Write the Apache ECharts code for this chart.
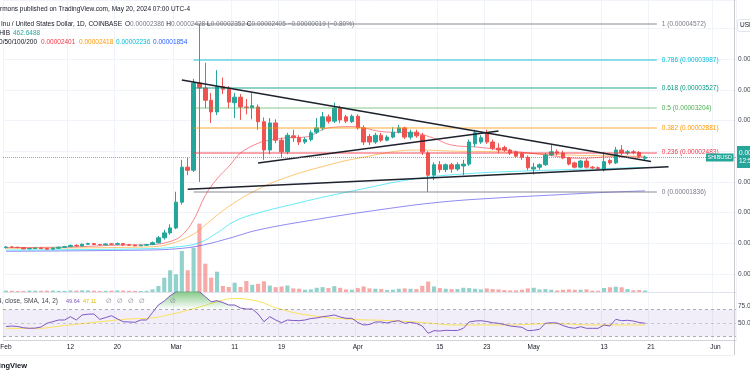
<!DOCTYPE html>
<html><head><meta charset="utf-8">
<script src="https://cdn.jsdelivr.net/npm/echarts@6/dist/echarts.min.js"></script>
<style>html,body{margin:0;padding:0;background:#fff}#c{width:750px;height:375px}</style>
</head><body><div id="c"></div>
<script>
// prices in units of 1e-8 USD, rows = [open, high, low, close]
const ohlcFeb = [
[930,955,915,940],[940,955,925,935],[935,945,920,930],[930,940,900,910],[910,930,900,915],
[915,935,905,925],[925,935,905,915],[915,930,895,905],[905,935,900,920],[920,945,910,935],
[935,960,930,945],[945,980,940,965],[965,985,945,955],[955,995,950,985],[985,1010,975,995],
[995,1005,970,980],[980,990,960,975],[975,1000,970,990],[990,1005,975,985],[985,1015,970,995],
[995,1000,955,975],[975,990,960,970],[970,980,950,960],[960,980,955,970],[970,990,965,980],
[980,1030,970,1010],[1010,1120,1000,1090],[1090,1220,1060,1170],[1170,1310,1140,1250]];
const ohlcMar = [
[1250,1840,1230,1670],[1670,2360,1630,2240],[2240,2390,2110,2190],[2190,3680,2160,3610],[3610,4572,2000,3530],
[3530,3940,3200,3330],[3330,3450,2960,3140],[3140,3820,3090,3550],[3550,3700,3430,3510],[3510,3560,3200,3300],
[3290,3450,3040,3380],[3380,3430,3010,3220],[3220,3350,3100,3210],[3210,3450,3020,3240],[3220,3260,2850,2980],
[2980,3050,2360,2520],[2520,3040,2450,2960],[2960,3020,2630,2680],[2680,2720,2390,2490],[2490,2800,2450,2760],
[2750,2850,2650,2720],[2720,2760,2600,2650],[2650,2730,2620,2690],[2690,2840,2660,2800],[2810,3040,2780,2880],
[2880,3140,2840,3060],[3060,3100,2950,2990],[2990,3290,2960,3200],[3200,3240,2960,3010],[3060,3090,2960,2990],
[2980,3100,2960,3070]];
const ohlcApr = [
[3070,3100,2850,2880],[2880,2920,2600,2650],[2740,2780,2600,2650],[2650,2800,2620,2760],[2760,2800,2650,2680],
[2680,2760,2660,2730],[2730,2890,2710,2810],[2810,2930,2790,2880],[2880,2900,2700,2730],[2730,2850,2690,2810],
[2810,2850,2720,2750],[2760,2800,2440,2490],[2470,2500,1836,2110],[2110,2320,2030,2280],[2280,2340,2150,2200],
[2200,2300,2160,2280],[2280,2310,2150,2210],[2210,2320,2180,2280],[2260,2360,2110,2290],[2290,2690,2260,2650],
[2620,2850,2570,2800],[2650,2760,2620,2720],[2800,2850,2620,2650],[2650,2690,2520,2550],[2550,2630,2470,2520],
[2560,2590,2490,2520],[2520,2540,2440,2470],[2490,2510,2400,2420],[2460,2490,2360,2400],[2400,2430,2190,2230]];
const ohlcMay = [
[2210,2310,2120,2240],[2240,2300,2200,2280],[2280,2470,2260,2440],[2440,2600,2420,2490],[2490,2530,2430,2470],
[2470,2510,2370,2390],[2390,2410,2270,2290],[2310,2330,2220,2240],[2240,2360,2220,2340],[2340,2380,2220,2240],
[2240,2260,2210,2230],[2230,2250,2200,2220],[2200,2490,2170,2330],[2350,2380,2280,2310],[2310,2570,2290,2520],
[2520,2600,2440,2470],[2470,2520,2440,2490],[2490,2520,2450,2480],[2480,2500,2390,2420],[2386,2428,2352,2405]];
const ohlc = [...ohlcFeb, ...ohlcMar, ...ohlcApr, ...ohlcMay];

// volume (billions SHIB)
const volFeb = [420,380,300,350,450,400,380,420,430,360,340,470,430,520,480,400,330,360,420,480,450,380,330,300,350,800,1850,4400,6700];
const volMar = [5460,12650,6700,13670,21080,8730,4410,6260,1850,1540,2870,1540,3400,2200,2500,3300,2000,1500,1700,2000,1100,1000,700,800,1300,1500,1200,1800,1300,800,700];
const volApr = [1200,1700,1100,1000,900,600,700,1000,1100,1000,900,1900,3200,1700,1200,1000,900,900,1300,1200,1000,800,1100,900,800,600,500,500,700,1100];
const volMay = [1300,800,900,700,500,700,800,700,700,800,400,400,1230,1450,1640,1450,930,525,600,462.6488];
const volume = [...volFeb, ...volMar, ...volApr, ...volMay];

// moving averages [date, price]
const ma20 = [['2024-02-01',930],['2024-02-12',940],['2024-02-20',970],['2024-02-26',980],['2024-02-29',1030],['2024-03-02',1130],['2024-03-04',1380],['2024-03-06',1780],['2024-03-08',2050],['2024-03-10',2250],['2024-03-12',2470],['2024-03-15',2630],['2024-03-17',2680],['2024-03-20',2720],['2024-03-23',2730],['2024-03-27',2880],['2024-03-31',2900],['2024-04-02',2880],['2024-04-05',2820],['2024-04-11',2790],['2024-04-14',2710],['2024-04-17',2600],['2024-04-21',2570],['2024-04-23',2550],['2024-05-03',2440],['2024-05-09',2385],['2024-05-15',2410],['2024-05-20',2401]];
const ma50 = [['2024-02-01',920],['2024-02-25',940],['2024-02-29',990],['2024-03-04',1150],['2024-03-06',1300],['2024-03-10',1600],['2024-03-15',1880],['2024-03-20',2080],['2024-03-26',2250],['2024-04-01',2385],['2024-04-11',2520],['2024-04-18',2500],['2024-04-25',2490],['2024-05-03',2455],['2024-05-10',2430],['2024-05-20',2418]];
const ma100 = [['2024-02-01',890],['2024-02-24',910],['2024-03-01',940],['2024-03-05',1010],['2024-03-08',1170],['2024-03-11',1360],['2024-03-15',1494],['2024-03-22',1660],['2024-03-26',1750],['2024-04-01',1870],['2024-04-10',2040],['2024-04-19',2130],['2024-04-30',2180],['2024-05-07',2200],['2024-05-20',2236]];
const ma200 = [['2024-02-01',870],['2024-02-25',890],['2024-03-01',910],['2024-03-05',960],['2024-03-10',1080],['2024-03-15',1217],['2024-03-25',1390],['2024-04-05',1550],['2024-04-15',1670],['2024-04-25',1740],['2024-05-05',1790],['2024-05-12',1825],['2024-05-20',1854]];

// RSI (14) daily values and its moving average
const rsiFeb = [44.9,45.5,44.9,43.0,42.2,42.5,44.1,49.6,52.0,54.4,54.4,59.3,54.4,61.8,63.0,63.2,55.4,58.0,60.7,56.0,51.9,51.5,51.0,54.4,54.4,65.4,76.5,82.4,90.0];
const rsiMar = [96,98,97,98,96,88.7,81.3,82.8,80.1,76.5,76.5,72.0,70.6,70.6,63.2,51.9,59.3,54.4,50.4,54.4,53.7,53.4,54.4,56.6,57.4,59.3,60.3,61.8,58.8,56.9,56.9];
const rsiApr = [50.7,47.1,47.8,51.5,51.5,50.0,52.2,53.4,49.6,51.0,49.3,45.6,34.9,38.7,38.2,39.3,39.0,39.0,42.2,51.5,52.9,53.4,52.2,50.4,49.6,47.8,45.6,44.6,43.7,38.7];
const rsiMay = [39.3,40.7,49.6,50.4,50.0,46.3,43.4,42.2,44.6,42.2,42.2,42.2,47.1,45.6,55.4,53.4,54.0,52.9,50.7,49.64];
const rsi = [...rsiFeb, ...rsiMar, ...rsiApr, ...rsiMay];
const rsiMa = [['2024-02-01',42.2],['2024-02-06',42.2],['2024-02-11',46.3],['2024-02-17',51.9],['2024-02-22',55.9],['2024-02-25',56.9],['2024-02-29',62.5],['2024-03-05',73.5],['2024-03-08',81.3],['2024-03-11',86.0],['2024-03-14',83.8],['2024-03-19',69.9],['2024-03-24',61.0],['2024-03-31',55.4],['2024-04-06',53.7],['2024-04-12',50.7],['2024-04-18',47.1],['2024-04-26',47.1],['2024-05-04',49.0],['2024-05-12',47.1],['2024-05-20',47.11]];

// fibonacci retracement (labels as printed)
const fibLevels = ['1','0.786','0.618','0.5','0.382','0.236','0'];
const fibPrices = [4572,3987,3527,3204,2881,2483,1836];
const fibRange = ['2024-03-04','2024-05-22'];

// trend lines [date, price]
const trendUpper = [['2024-03-02',3660],['2024-05-21',2332]];
const trendMid = [['2024-03-15',2308],['2024-04-25',2830]];
const trendLower = [['2024-03-03',1881],['2024-05-24',2248]];

// x axis ticks
const tickDates = ['2024-02-01','2024-02-12','2024-02-20','2024-03-01','2024-03-11','2024-03-19','2024-04-01','2024-04-15','2024-04-23','2024-05-01','2024-05-13','2024-05-21','2024-06-01'];
const tickLabels = ['Feb','12','20','Mar','11','19','Apr','15','23','May','13','21','Jun'];

const dates = [];
for (let i = 0; i < 125; i++) dates.push(new Date(Date.UTC(2024, 1, 1 + i)).toISOString().slice(0, 10));
const tickMap = new Map(tickDates.map((d, i) => [d, tickLabels[i]]));
const isTick = (i, v) => tickMap.has(v);

const FONT = '"Liberation Sans", "DejaVu Sans", sans-serif';
const UP = '#26a69a', DOWN = '#ef5350';
const fibColors = ['#787b86','#00bcd4','#089981','#4caf50','#ff9800','#f23645','#787b86'];
const fibLineColors = ['rgba(120,123,134,0.6)','rgba(0,188,212,0.6)','rgba(8,153,129,0.6)','rgba(76,175,80,0.45)','rgba(255,152,0,0.4)','rgba(242,54,69,0.6)','rgba(120,123,134,0.6)'];
const fmtP = v => (v / 1e8).toFixed(8);
const last = ohlc[ohlc.length - 1];

const chart = echarts.init(document.getElementById('c'), null, {renderer: 'canvas'});

const fibLines = fibPrices.map((p, i) => [
  {coord: [fibRange[0], p], lineStyle: {color: fibLineColors[i], width: i === 4 ? 2 : 1.5, type: 'solid'},
   label: {show: true, position: 'end', distance: 5, formatter: fibLevels[i] + ' (' + fmtP(p) + ')', color: fibColors[i], fontSize: 6.5, fontFamily: FONT}},
  {coord: [fibRange[1], p]}
]);
const tl = pts => [
  {coord: pts[0], lineStyle: {color: '#1e222d', width: 1.6, type: 'solid'}, label: {show: false}},
  {coord: pts[1]}
];

const text = (x, y, t, fill, opts) => Object.assign({type: 'text', x, y, silent: true, z: 50,
  style: Object.assign({text: t, fill, font: '6.5px ' + FONT, verticalAlign: 'middle', align: 'left'}, opts || {})});

const option = {
  animation: false,
  textStyle: {fontFamily: FONT},
  grid: [
    {left: 3, right: 14, top: 0, height: 292, outerBoundsMode: 'none', containLabel: false},
    {left: 3, right: 14, top: 292, height: 48, outerBoundsMode: 'none', containLabel: false}
  ],
  xAxis: [
    {type: 'category', gridIndex: 0, data: dates, boundaryGap: true,
     axisLabel: {show: false}, axisTick: {show: false},
     axisLine: {show: true, lineStyle: {color: '#e0e3eb'}},
     splitLine: {show: true, interval: isTick, lineStyle: {color: '#f0f3fa'}}},
    {type: 'category', gridIndex: 1, data: dates, boundaryGap: true,
     axisTick: {show: false},
     axisLine: {show: true, lineStyle: {color: '#d1d4dc'}},
     axisLabel: {interval: isTick, formatter: v => tickMap.get(v) || '', color: '#131722', fontSize: 6.5, margin: 4},
     splitLine: {show: true, interval: isTick, lineStyle: {color: '#f0f3fa'}}}
  ],
  yAxis: [
    {type: 'value', gridIndex: 0, position: 'right', min: 207, max: 4963, splitNumber: 10,
     axisLine: {show: false}, axisTick: {show: false},
     axisLabel: {formatter: fmtP, color: '#434651', fontSize: 6.5, margin: 2, showMinLabel: false, showMaxLabel: false},
     splitLine: {show: true, lineStyle: {color: '#f0f3fa'}}},
    {type: 'value', gridIndex: 0, min: 0, max: 90000, show: false, splitLine: {show: false}},
    {type: 'value', gridIndex: 1, position: 'right', min: 25, max: 95.6, interval: 25,
     axisLine: {show: false}, axisTick: {show: false},
     axisLabel: {formatter: v => v.toFixed(1), color: '#434651', fontSize: 6.5, margin: 2, showMinLabel: false, showMaxLabel: false},
     splitLine: {show: false}}
  ],
  series: [
    {type: 'bar', name: 'Volume', xAxisIndex: 0, yAxisIndex: 1, barWidth: '70%', z: 1,
     data: volume.map((v, i) => ({value: v, itemStyle: {color: ohlc[i][3] >= ohlc[i][0] ? 'rgba(38,166,154,0.5)' : 'rgba(239,83,80,0.5)'}}))},
    {type: 'line', name: 'MA200', xAxisIndex: 0, yAxisIndex: 0, data: ma200, smooth: 0.4, showSymbol: false, z: 2,
     lineStyle: {color: 'rgba(70,60,235,0.6)', width: 1}},
    {type: 'line', name: 'MA100', xAxisIndex: 0, yAxisIndex: 0, data: ma100, smooth: 0.4, showSymbol: false, z: 2,
     lineStyle: {color: 'rgba(0,220,245,0.6)', width: 1}},
    {type: 'line', name: 'MA50', xAxisIndex: 0, yAxisIndex: 0, data: ma50, smooth: 0.4, showSymbol: false, z: 2,
     lineStyle: {color: 'rgba(255,152,0,0.55)', width: 1}},
    {type: 'line', name: 'MA20', xAxisIndex: 0, yAxisIndex: 0, data: ma20, smooth: 0.4, showSymbol: false, z: 2,
     lineStyle: {color: 'rgba(242,54,69,0.6)', width: 1}},
    {type: 'candlestick', name: 'SHIBUSD', xAxisIndex: 0, yAxisIndex: 0, z: 3, barWidth: '68%',
     data: ohlc.map(r => [r[0], r[3], r[2], r[1]]),
     itemStyle: {color: UP, color0: DOWN, borderColor: UP, borderColor0: DOWN, borderWidth: 1},
     markLine: {silent: true, symbol: ['none', 'none'], animation: false,
       data: [
         ...fibLines,
         tl(trendUpper), tl(trendMid), tl(trendLower),
         {yAxis: last[3], lineStyle: {color: 'rgba(38,166,154,0.7)', type: 'dotted', width: 1},
          label: {show: true, position: 'end', distance: 1, formatter: fmtP(last[3]) + '\n12:54:36',
                  backgroundColor: '#26a69a', color: '#fff', fontSize: 6.5, lineHeight: 8, padding: [3, 2, 3, 2], fontFamily: FONT}}
       ]}},
    {type: 'line', name: 'RSI', xAxisIndex: 1, yAxisIndex: 2, data: rsi, showSymbol: false, z: 3,
     lineStyle: {color: '#7e57c2', width: 1},
     areaStyle: {color: new echarts.graphic.LinearGradient(0, 292, 0, 309.4,
       [{offset: 0, color: 'rgba(76,175,80,0.95)'}, {offset: 1, color: 'rgba(76,175,80,0)'}], true)},
     markArea: {silent: true, itemStyle: {color: 'rgba(126,87,194,0.1)'}, data: [[{yAxis: 30}, {yAxis: 70}]]},
     markLine: {silent: true, symbol: ['none', 'none'], label: {show: false},
       lineStyle: {color: 'rgba(120,123,134,0.6)', type: [3, 3], width: 1},
       data: [{yAxis: 70}, {yAxis: 50, lineStyle: {color: 'rgba(120,123,134,0.35)'}}, {yAxis: 30}]}},
    {type: 'line', name: 'RSI MA', xAxisIndex: 1, yAxisIndex: 2, data: rsiMa, smooth: 0.5, showSymbol: false, z: 2,
     lineStyle: {color: '#fbe05a', width: 1}}
  ],
  graphic: [
    text(0, 9, 'rmons published on TradingView.com, May 20, 2024 07:00 UTC-4', '#131722'),
    text(122, 24, 'Shiba Inu / United States Dollar, 1D, COINBASE', '#131722', {align: 'right'}),
    {type: 'text', x: 125, y: 24, silent: true, z: 50, style: {font: '6.5px ' + FONT, verticalAlign: 'middle',
      text: '{l|O}{v|' + fmtP(last[0]) + '} {l|H}{v|' + fmtP(last[1]) + '} {l|L}{v|' + fmtP(last[2]) + '} {l|C}{v|' + fmtP(last[3]) + '} {v|\u22120.00000019 (\u22120.80%)}',
      rich: {l: {fill: '#131722', font: '6.5px ' + FONT}, v: {fill: '#787b86', font: '6.5px ' + FONT}}}},
    text(10, 33, 'Vol \u00b7 SHIB', '#131722', {align: 'right'}),
    text(13, 33, '462.6488', '#26a69a'),
    text(37, 42, 'MA 20/50/100/200', '#131722', {align: 'right'}),
    text(41, 42, fmtP(2401), '#f23645'),
    text(79, 42, fmtP(2418), '#ff9800'),
    text(116, 42, fmtP(2236), '#00bcd4'),
    text(153, 42, fmtP(1854), '#2962ff'),
    text(58, 301, 'RSI (14, close, SMA, 14, 2)', '#434651', {align: 'right'}),
    text(66, 301, '49.64', '#7e57c2', {font: '5.5px ' + FONT}),
    text(83, 301, '47.11', '#e0b800', {font: '5.5px ' + FONT}),
    text(106, 301, '\u2205', '#787b86'),
    text(117, 301, '\u2205', '#787b86'),
    text(128, 301, '\u2205', '#787b86'),
    text(139, 301, '\u2205', '#787b86'),
    text(170, 301, '\u2205', '#787b86'),
    text(27, 366, 'TradingView', '#131722', {align: 'right', font: 'bold 7.5px ' + FONT}),
    {type: 'rect', z: 50, shape: {x: 706, y: 153.5, width: 27.5, height: 8}, silent: true, style: {fill: '#26a69a'}},
    text(719.7, 157.6, 'SHIBUSD', '#ffffff', {align: 'center', font: '5.5px ' + FONT}),
    {type: 'rect', z: 50, shape: {x: 737.5, y: 19.5, width: 16, height: 12, r: 2}, silent: true, style: {fill: '#fff', stroke: '#e0e3eb', lineWidth: 1}},
    text(740, 25.5, 'USD', '#131722'),
    {type: 'line', z: 50, shape: {x1: 734.5, y1: 0, x2: 734.5, y2: 355}, silent: true, style: {stroke: '#c9cbd1', lineWidth: 1}},
    {type: 'line', z: 50, shape: {x1: 0, y1: 355.5, x2: 734, y2: 355.5}, silent: true, style: {stroke: '#eceef2', lineWidth: 1}}
  ]
};
chart.setOption(option);
</script>
</body></html>
